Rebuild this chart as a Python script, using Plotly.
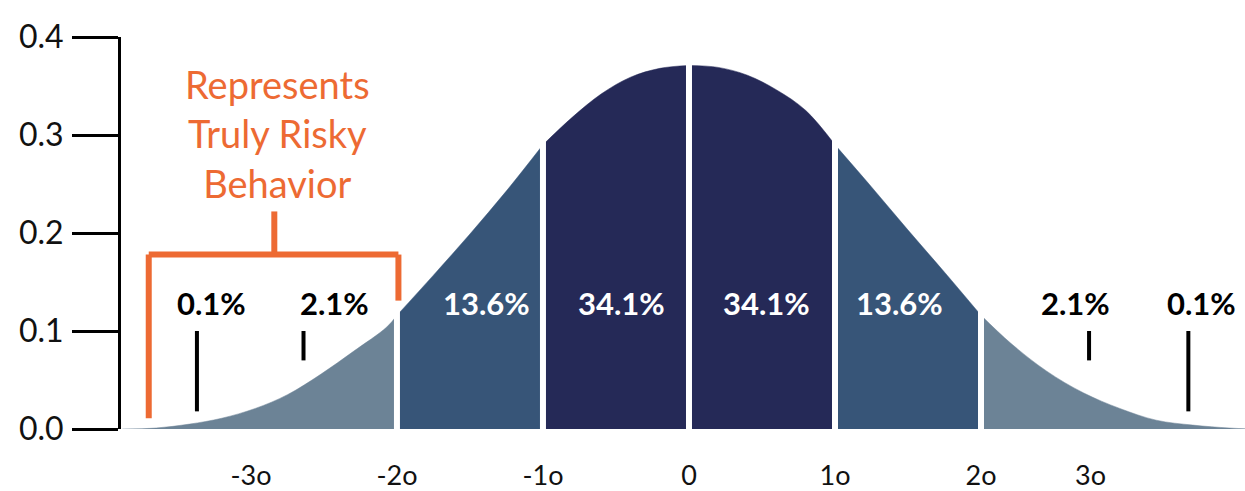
import plotly.graph_objects as go

# ---- data ----
sigma_x = [-3.88, -3.65, -3.42, -3.2, -2.97, -2.75, -2.52, -2.3, -2.07, -2.0,
           -1.75, -1.5, -1.25, -1.0, -0.8, -0.6, -0.4, -0.2, 0.0,
           0.2, 0.4, 0.6, 0.8, 1.0, 1.25, 1.5, 1.75, 2.0, 2.2, 2.45, 2.7,
           2.95, 3.2, 3.45, 3.7, 3.85]
density = [0.000, 0.001, 0.005, 0.011, 0.021, 0.035, 0.056, 0.079, 0.104, 0.116,
           0.157, 0.199, 0.243, 0.290, 0.318, 0.342, 0.359, 0.368, 0.371,
           0.369, 0.361, 0.346, 0.325, 0.290, 0.247, 0.203, 0.160, 0.116, 0.088, 0.059, 0.037,
           0.021, 0.009, 0.004, 0.001, 0.000]

region_edges = [-2, -1, 0, 1, 2]
region_colors = ["#6c8396", "#375578", "#252957", "#252957", "#375578", "#6c8396"]

pct_labels = ["0.1%", "2.1%", "13.6%", "34.1%", "34.1%", "13.6%", "2.1%", "0.1%"]
pct_colors = ["#000000", "#000000", "#ffffff", "#ffffff", "#ffffff", "#ffffff", "#000000", "#000000"]

x_tick_vals = [-3, -2, -1, 0, 1, 2, 2.75]
x_tick_text = ["-3o", "-2o", "-1o", "0", "1o", "2o", "3o"]
y_tick_vals = [0.0, 0.1, 0.2, 0.3, 0.4]
y_tick_text = ["0.0", "0.1", "0.2", "0.3", "0.4"]

note_text = "Represents<br>Truly Risky<br>Behavior"

# ---- layout positions (not data) ----
pct_label_x = [-3.27, -2.43, -1.39, -0.46, 0.53, 1.445, 2.65, 3.51]
pct_label_y = 0.129
pointer_x = [-3.37, -2.64, 2.74, 3.42]
pointer_y0 = [0.018, 0.070, 0.070, 0.018]
pointer_y1 = 0.100
ORANGE = "#ed6a33"
FONT = "Lato"

fig = go.Figure()

bounds = [min(sigma_x)] + region_edges + [max(sigma_x)]
for i in range(len(bounds) - 1):
    lo, hi = bounds[i], bounds[i + 1]
    xs = [x for x in sigma_x if lo <= x <= hi]
    ys = [y for x, y in zip(sigma_x, density) if lo <= x <= hi]
    fig.add_trace(go.Scatter(
        x=xs, y=ys, mode="lines", fill="tozeroy",
        line=dict(color=region_colors[i], width=0.5, shape="spline", smoothing=1.0),
        fillcolor=region_colors[i], hoverinfo="skip", showlegend=False))

# white separators between regions
for e in region_edges:
    ye = density[sigma_x.index(e)]
    fig.add_trace(go.Scatter(
        x=[e, e], y=[0, ye + 0.01], mode="lines",
        line=dict(color="white", width=6), hoverinfo="skip", showlegend=False))

# percentage labels
for lab, col, lx in zip(pct_labels, pct_colors, pct_label_x):
    fig.add_annotation(x=lx, y=pct_label_y, text="<b>" + lab + "</b>", showarrow=False,
                       font=dict(family=FONT, size=31, color=col))

# black pointer ticks
for px, py0 in zip(pointer_x, pointer_y0):
    fig.add_shape(type="line", x0=px, x1=px, y0=py0, y1=pointer_y1,
                  line=dict(color="black", width=4))

# orange bracket
bx_left, bx_right, bx_mid = -3.70, -1.99, -2.84
by_top, by_stem = 0.178, 0.222
fig.add_shape(type="line", x0=bx_mid, x1=bx_mid, y0=by_top, y1=by_stem, line=dict(color=ORANGE, width=6))
fig.add_shape(type="line", x0=bx_left, x1=bx_right, y0=by_top, y1=by_top, line=dict(color=ORANGE, width=6))
fig.add_shape(type="line", x0=bx_left, x1=bx_left, y0=0.011, y1=by_top, line=dict(color=ORANGE, width=6))
fig.add_shape(type="line", x0=bx_right, x1=bx_right, y0=0.131, y1=by_top, line=dict(color=ORANGE, width=6))

fig.add_annotation(x=-2.815, y=0.302, text=note_text, showarrow=False,
                   font=dict(family=FONT, size=38, color=ORANGE), align="center")

fig.update_layout(
    width=1245, height=491,
    margin=dict(l=121, r=0, t=37, b=58),
    plot_bgcolor="white", paper_bgcolor="white",
    showlegend=False,
    xaxis=dict(range=[-3.89, 3.808], showgrid=False, zeroline=False, showline=False,
               tickvals=x_tick_vals, ticktext=x_tick_text, ticks="",
               ticklabelstandoff=28,
               tickfont=dict(family=FONT, size=27, color="#111111")),
    yaxis=dict(range=[0, 0.4], showgrid=False, zeroline=False, showline=True,
               linecolor="black", linewidth=3, ticks="outside", ticklen=46,
               tickwidth=3, tickcolor="black",
               tickvals=y_tick_vals, ticktext=y_tick_text,
               ticklabelstandoff=2,
               tickfont=dict(family=FONT, size=32, color="#111111")),
)

fig.write_html("out.html", config={"displayModeBar": False},
               post_script="document.body.style.margin='0';document.body.style.overflow='hidden';")
